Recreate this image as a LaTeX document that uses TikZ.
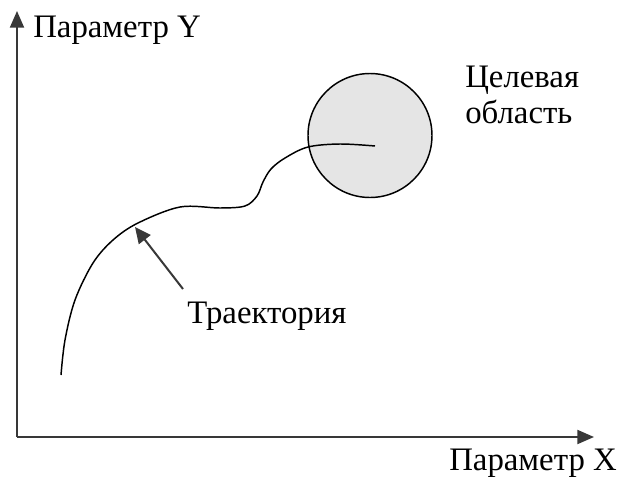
\documentclass[tikz,border=0pt]{standalone}
\usepackage{fontspec}
\setmainfont{Liberation Serif}
\usetikzlibrary{arrows.meta}

\tikzset{
    axisline/.style={line width=1.5pt, black!78, -{Triangle[length=12.5pt,width=10.5pt]}},
    pointer/.style={line width=1.5pt, black!78, -{Triangle[length=12pt,width=11pt]}},
    labeltext/.style={font=\fontsize{24.6}{26.5}\selectfont, inner sep=0pt}
}

\begin{document}
\begin{tikzpicture}[x=0.75pt, y=-0.75pt]
    \useasboundingbox (0,0) rectangle (619,479);

    % Axes
    \coordinate (origin) at (17,437);
    \coordinate (xend) at (594,437);
    \coordinate (yend) at (17,11);
    \draw[axisline] (origin) -- (xend);
    \draw[axisline] (origin) -- (yend);
    \node[labeltext, anchor=base west] (ylab) at (33,37) {Параметр Y};
    \node[labeltext, anchor=base west] (xlab) at (449,470) {Параметр X};

    % Target region
    \draw[line width=1.1pt, fill=black!10] (370,135.5) circle[radius=46.5pt];
    \node[labeltext, anchor=base west, align=left] (goal) at (465,123) {Целевая\\область};

    % Trajectory
    \draw[line width=1.1pt] plot[smooth, tension=0.55] coordinates {
        (61,375) (65,340) (75,300) (93,263) (113,240) (138,223) (180,207)
        (220,208) (245,206) (257,196) (263,182) (271,169) (285,158)
        (308,147) (340,144) (375,146)};
    \node[labeltext, anchor=base west] (traj) at (187,323) {Траектория};
    \coordinate (tail) at (183,289);
    \coordinate (tip) at (135,227);
    \draw[pointer] (tail) -- (tip);
\end{tikzpicture}
\end{document}
